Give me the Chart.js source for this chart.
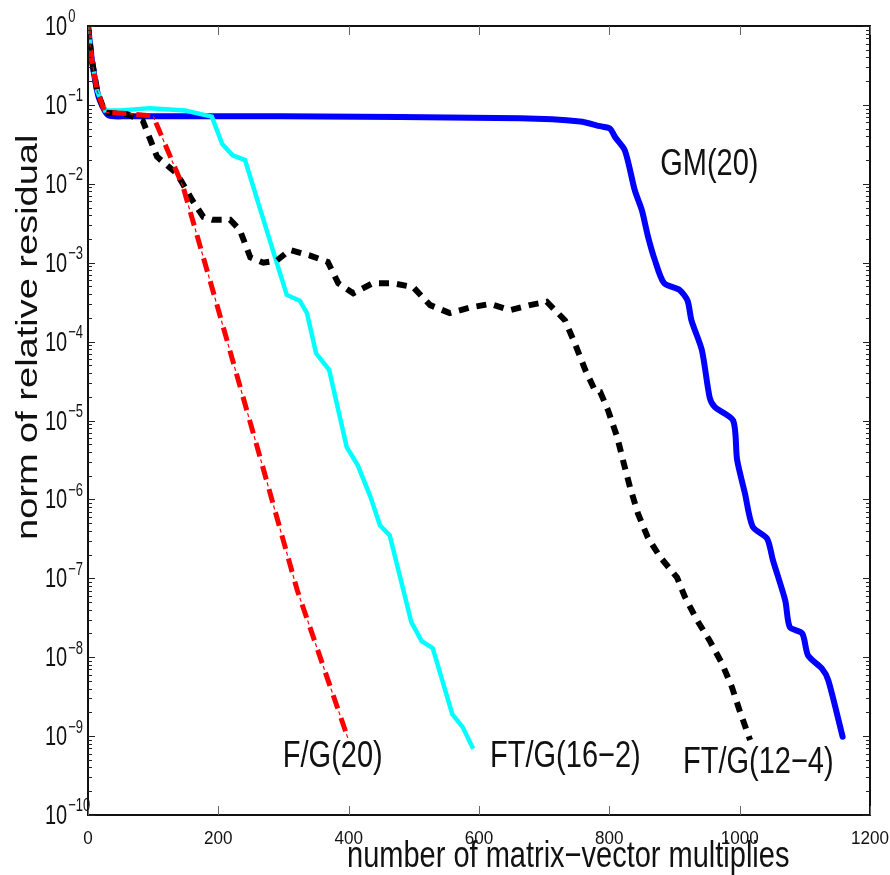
<!DOCTYPE html>
<html>
<head>
<meta charset="utf-8">
<script src="https://cdn.jsdelivr.net/npm/chart.js@4"></script>
<style>
  body { margin: 0; background: #fff; }
  #wrap { width: 890px; height: 875px; position: relative; }
</style>
</head>
<body>
<div id="wrap"><canvas id="residualChart"></canvas></div>
<script>
// Convergence history - relative residual vs matrix-vector multiplies

const xTicks = [0, 200, 400, 600, 800, 1000, 1200];
const yExponents = [0, -1, -2, -3, -4, -5, -6, -7, -8, -9, -10];

// GM(20)
const gmX = [0, 6, 14, 18, 31, 60, 295, 663, 755, 786, 801, 809, 824, 839, 850, 859, 870, 884, 908, 920,
  926, 942, 954, 962, 990, 996, 1008, 1020, 1042, 1051, 1070, 1077, 1096, 1105, 1126, 1136, 1158];
const gmY = [1, 0.37, 0.15, 0.115, 0.074, 0.072, 0.0716, 0.0676, 0.0617, 0.0537, 0.0501, 0.0389, 0.0263,
  8.3e-3, 4.6e-3, 2.2e-3, 1.07e-3, 5.5e-4, 4.5e-4, 3.3e-4, 1.86e-4, 7.8e-5, 1.95e-5, 1.48e-5, 1.0e-5,
  3.2e-6, 1.2e-6, 4.5e-7, 3.2e-7, 1.7e-7, 5.2e-8, 2.4e-8, 2.0e-8, 1.05e-8, 7.2e-9, 5.1e-9, 9.8e-10];

// FT/G(16-2)
const ft16X = [0, 6, 14, 26, 50, 95, 149, 190, 206, 222, 241, 267, 305, 325, 336, 350, 370, 397, 414,
  433, 448, 463, 488, 496, 512, 529, 559, 575, 591];
const ft16Y = [1, 0.37, 0.15, 0.085, 0.085, 0.091, 0.085, 0.071, 0.032, 0.023, 0.020, 4.0e-3, 3.9e-4,
  3.3e-4, 2.3e-4, 7.1e-5, 4.4e-5, 4.6e-6, 2.7e-6, 1.1e-6, 4.7e-7, 3.5e-7, 5.2e-8, 2.8e-8, 1.6e-8,
  1.3e-8, 1.9e-9, 1.3e-9, 6.9e-10];

// F/G(20)
const fgX = [0, 6, 14, 26, 60, 100, 112, 146, 198, 260, 321, 399];
const fgY = [1, 0.37, 0.15, 0.08, 0.078, 0.072, 0.042, 9.1e-3, 2.9e-4, 4.5e-6, 7.1e-8, 9.3e-10];

// FT/G(12-4)
const ft12X = [0, 6, 14, 26, 60, 84, 106, 136, 144, 160, 177, 191, 218, 233, 249, 269, 290, 310, 341,
  368, 384, 407, 437, 468, 499, 525, 555, 586, 617, 648, 678, 704, 732, 747, 763, 778, 786, 798, 812,
  822, 832, 844, 859, 878, 904, 916, 934, 954, 973, 988, 1000, 1016];
const ft12Y = [1, 0.37, 0.15, 0.08, 0.076, 0.063, 0.022, 0.0135, 0.0105, 6.2e-3, 3.8e-3, 3.5e-3, 3.5e-3,
  2.6e-3, 1.17e-3, 1.0e-3, 1.07e-3, 1.45e-3, 1.23e-3, 1.02e-3, 5.5e-4, 4.1e-4, 5.5e-4, 5.5e-4, 4.9e-4,
  2.9e-4, 2.3e-4, 2.7e-4, 3.0e-4, 2.5e-4, 2.9e-4, 3.2e-4, 1.86e-4, 9.5e-5, 4.4e-5, 2.4e-5, 2.3e-5,
  1.35e-5, 6.2e-6, 2.9e-6, 1.4e-6, 6.6e-7, 3.3e-7, 1.86e-7, 1.02e-7, 5.8e-8, 3.0e-8, 1.62e-8, 8.3e-9,
  4.2e-9, 2.1e-9, 8.9e-10];

// curve labels, anchored in data coordinates (left end of the baseline)
const curveLabels = [
  { text: 'GM(20)', x: 878, y: 1.3e-2 },
  { text: 'F/G(20)', x: 299, y: 4.0e-10 },
  { text: 'FT/G(16\u22122)', x: 617, y: 4.0e-10 },
  { text: 'FT/G(12\u22124)', x: 913, y: 3.4e-10 }
];

function toPoints(xs, ys) {
  return xs.map(function (x, i) { return { x: x, y: ys[i] }; });
}

const TEXT_FONT = "'Liberation Sans', Arial, sans-serif";
const STRETCH = 1.28; // glyphs in the figure are taller than they are wide

const framePlugin = {
  id: 'frame',
  afterDatasetsDraw: function (chart) {
    const ctx = chart.ctx;
    const area = chart.chartArea;
    const xs = chart.scales.x;
    const ys = chart.scales.y;
    ctx.save();

    // box
    ctx.strokeStyle = '#111';
    ctx.lineWidth = 2;
    ctx.strokeRect(area.left, area.top, area.right - area.left, area.bottom - area.top);

    // x ticks, top and bottom, pointing inward
    ctx.strokeStyle = '#666';
    ctx.lineWidth = 1;
    xTicks.forEach(function (v) {
      const px = Math.round(xs.getPixelForValue(v)) + 0.5;
      ctx.beginPath();
      ctx.moveTo(px, area.bottom);
      ctx.lineTo(px, area.bottom - 9);
      ctx.moveTo(px, area.top);
      ctx.lineTo(px, area.top + 9);
      ctx.stroke();
    });

    // y ticks, log decades with minors, left and right
    ctx.strokeStyle = '#222';
    yExponents.forEach(function (e) {
      const base = Math.pow(10, e);
      const py = Math.round(ys.getPixelForValue(base)) + 0.5;
      ctx.beginPath();
      ctx.moveTo(area.left, py); ctx.lineTo(area.left + 7, py);
      ctx.moveTo(area.right, py); ctx.lineTo(area.right - 7, py);
      ctx.stroke();
      if (e === 0) return;
      for (let k = 2; k <= 9; k++) {
        const my = Math.round(ys.getPixelForValue(k * base)) + 0.5;
        ctx.beginPath();
        ctx.moveTo(area.left, my); ctx.lineTo(area.left + 4, my);
        ctx.moveTo(area.right, my); ctx.lineTo(area.right - 4, my);
        ctx.stroke();
      }
    });

    // x tick labels
    ctx.fillStyle = '#111';
    ctx.font = "18px " + TEXT_FONT;
    ctx.textAlign = 'center';
    ctx.textBaseline = 'alphabetic';
    xTicks.forEach(function (v) {
      const px = xs.getPixelForValue(v);
      ctx.save();
      ctx.translate(px, area.bottom + 29);
      ctx.scale(0.95, 1.05);
      ctx.fillText(String(v), 0, 0);
      ctx.restore();
    });

    // y tick labels: 10 with superscript exponent
    ctx.textAlign = 'left';
    yExponents.forEach(function (e) {
      const py = ys.getPixelForValue(Math.pow(10, e));
      ctx.save();
      ctx.translate(45, py + 9);
      ctx.scale(1, 1.4);
      ctx.font = "20px " + TEXT_FONT;
      ctx.fillText('10', 0, 0);
      const w = ctx.measureText('10').width;
      ctx.font = "13px " + TEXT_FONT;
      ctx.fillText(e === 0 ? '0' : '\u2212' + Math.abs(e), w + 1, -9);
      ctx.restore();
    });

    // curve labels
    ctx.font = "29px " + TEXT_FONT;
    curveLabels.forEach(function (lab) {
      ctx.save();
      ctx.translate(xs.getPixelForValue(lab.x), ys.getPixelForValue(lab.y));
      ctx.scale(1, STRETCH);
      ctx.fillText(lab.text, 0, 0);
      ctx.restore();
    });

    // axis titles
    ctx.save();
    ctx.translate(347, 867);
    ctx.scale(1, STRETCH);
    ctx.fillText('number of matrix\u2212vector multiplies', 0, 0);
    ctx.restore();

    ctx.save();
    ctx.translate(37, 540);
    ctx.rotate(-Math.PI / 2);
    ctx.scale(1.31, 1);
    ctx.fillText('norm of relative residual', 0, 0);
    ctx.restore();

    ctx.restore();
  }
};

document.addEventListener('DOMContentLoaded', function () {
  const canvas = document.getElementById('residualChart');
  new Chart(canvas.getContext('2d'), {
    type: 'line',
    data: {
      datasets: [
        {
          label: 'F/G(20)',
          data: toPoints(fgX, fgY),
          borderColor: '#ff0000',
          borderWidth: 5,
          borderDash: [14, 10],
          order: 0
        },
        {
          label: 'F/G(20) dots',
          data: toPoints(fgX, fgY),
          borderColor: '#ff0000',
          borderWidth: 1.2,
          borderDash: [4, 20],
          borderDashOffset: 7,
          order: 0
        },
        {
          label: 'FT/G(12-4)',
          data: toPoints(ft12X, ft12Y),
          borderColor: '#000000',
          borderWidth: 6,
          borderDash: [10, 8],
          order: 1
        },
        {
          label: 'FT/G(16-2)',
          data: toPoints(ft16X, ft16Y),
          borderColor: '#00ffff',
          borderWidth: 4.5,
          order: 2
        },
        {
          label: 'GM(20)',
          data: toPoints(gmX, gmY),
          borderColor: '#0000ff',
          borderWidth: 6,
          tension: 0.25,
          borderCapStyle: 'round',
          borderJoinStyle: 'round',
          order: 3
        }
      ]
    },
    options: {
      responsive: true,
      maintainAspectRatio: false,
      animation: false,
      layout: {
        padding: { left: 88, right: 20, top: 26, bottom: 60 }
      },
      elements: {
        point: { radius: 0, hoverRadius: 0 },
        line: { fill: false }
      },
      plugins: {
        legend: { display: false },
        tooltip: { enabled: false }
      },
      scales: {
        x: {
          type: 'linear',
          min: 0,
          max: 1200,
          display: false
        },
        y: {
          type: 'logarithmic',
          min: 1e-10,
          max: 1,
          display: false
        }
      }
    },
    plugins: [framePlugin]
  });
});
</script>
</body>
</html>
